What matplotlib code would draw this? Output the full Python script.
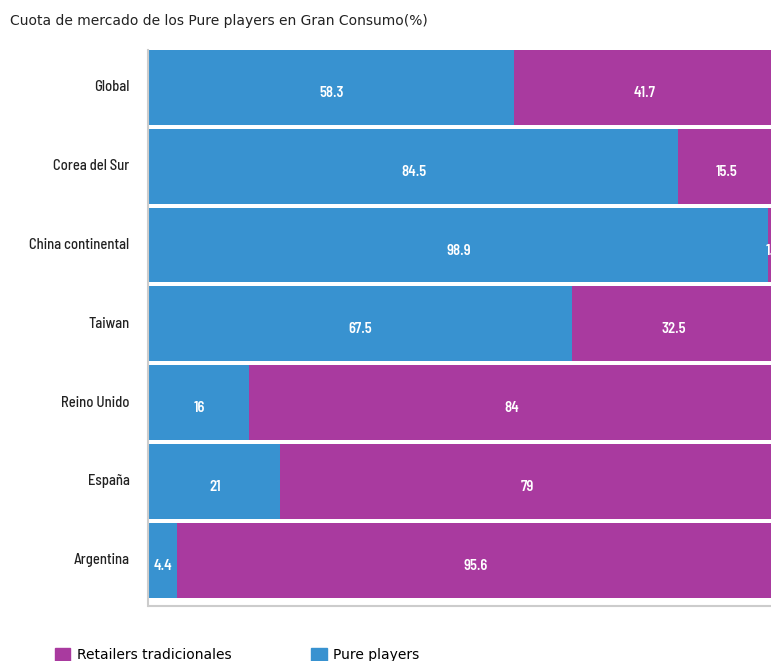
import matplotlib
matplotlib.use("Agg")
import matplotlib.pyplot as plt
from matplotlib.patches import Patch
from matplotlib.font_manager import FontProperties

categories = ["Global", "Corea del Sur", "China continental", "Taiwan",
              "Reino Unido", "España", "Argentina"]
pure_players = [58.3, 84.5, 98.9, 67.5, 16, 21, 4.4]
retailers = [41.7, 15.5, 1.1, 32.5, 84, 79, 95.6]
pure_labels = ["58.3", "84.5", "98.9", "67.5", "16", "21", "4.4"]
ret_labels = ["41.7", "15.5", "1.1", "32.5", "84", "79", "95.6"]

BLUE = "#3892D0"
PURPLE = "#A93A9F"
NARROW = ["Barlow Semi Condensed", "DejaVu Sans"]

W, H = 771, 661
fig = plt.figure(figsize=(W / 100, H / 100), dpi=100)
ax = fig.add_axes([149 / W, 1 - 606 / H, (775 - 149) / W, (606 - 50) / H])

y = list(range(len(categories)))
ax.barh(y, pure_players, height=0.95, color=BLUE, linewidth=0)
ax.barh(y, retailers, left=pure_players, height=0.95, color=PURPLE, linewidth=0)

val_fp = FontProperties(family=NARROW, weight=600, size=10.5)
cat_fp = FontProperties(family=NARROW, weight=500, size=10.5)

for i in y:
    ax.annotate(pure_labels[i], (pure_players[i] / 2, i), xytext=(0, -4),
                textcoords="offset points", ha="center", va="center",
                color="white", fontproperties=val_fp)
    ax.annotate(ret_labels[i], (pure_players[i] + retailers[i] / 2, i), xytext=(0, -4),
                textcoords="offset points", ha="center", va="center",
                color="white", fontproperties=val_fp)
    ax.annotate(categories[i], (0, i), xytext=(-14, 0), textcoords="offset points",
                ha="right", va="center", color="#222222", fontproperties=cat_fp,
                annotation_clip=False)

ax.set_xlim(0, 100)
ax.set_ylim(6.58, -0.475)
ax.set_yticks([])
ax.set_xticks([])
for s in ["top", "right"]:
    ax.spines[s].set_visible(False)
for s in ["left", "bottom"]:
    ax.spines[s].set_color("#cccccc")
    ax.spines[s].set_linewidth(1.5)
ax.spines["left"].set_position(("outward", 1))

fig.text(10 / W, 1 - 21 / H, "Cuota de mercado de los Pure players en Gran Consumo(%)",
         fontsize=10, color="#222222", va="center", ha="left")

handles = [Patch(color=PURPLE, label="Retailers tradicionales"),
           Patch(color=BLUE, label="Pure players")]
fig.legend(handles=handles, loc="upper left", bbox_to_anchor=(49 / W, 1 - 642 / H),
           ncol=2, frameon=False, fontsize=10, handlelength=1.1, handleheight=1.1,
           handletextpad=0.5, columnspacing=5.75, borderaxespad=0)

fig.savefig("out.png", dpi=100)
